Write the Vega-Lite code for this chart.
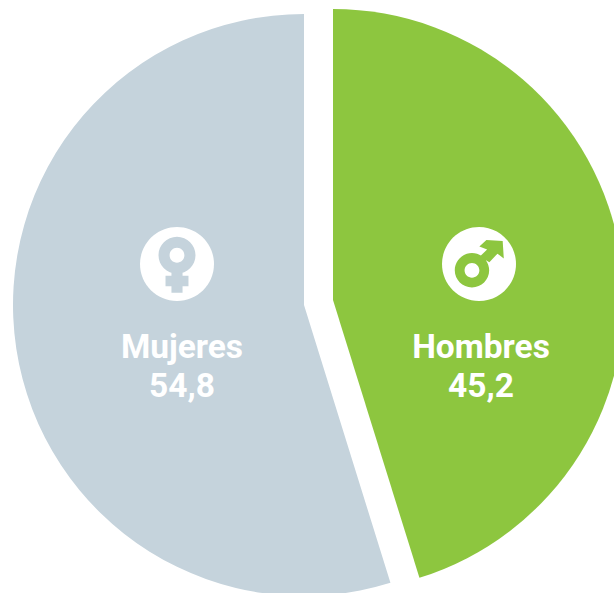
{
  "$schema": "https://vega.github.io/schema/vega-lite/v6.json",
  "width": 614,
  "height": 593,
  "padding": 0,
  "autosize": {"type": "none"},
  "background": "white",
  "view": {"stroke": null},
  "data": {"values": [
    {"sexo": "Hombres", "valor": 45.2, "etiqueta": "45,2"},
    {"sexo": "Mujeres", "valor": 54.8, "etiqueta": "54,8"}
  ]},
  "transform": [
    {"stack": "valor", "sort": [{"field": "sexo", "order": "ascending"}], "as": ["inicio", "fin"]}
  ],
  "encoding": {
    "x": {"field": "sexo", "type": "nominal", "axis": null, "scale": {"type": "point", "domain": ["Mujeres", "Hombres"], "range": [304, 333], "padding": 0}},
    "y": {"field": "sexo", "type": "nominal", "axis": null, "scale": {"type": "point", "domain": ["Mujeres", "Hombres"], "range": [305, 300], "padding": 0}}
  },
  "layer": [
    {
      "mark": {"type": "arc", "outerRadius": 291, "innerRadius": 0},
      "encoding": {
        "theta": {"field": "inicio", "type": "quantitative", "scale": {"domain": [0, 100], "range": [0, 6.283185307]}},
        "theta2": {"field": "fin"},
        "color": {"field": "sexo", "type": "nominal", "legend": null, "scale": {"domain": ["Mujeres", "Hombres"], "range": ["#c5d3dc", "#8dc63f"]}}
      }
    },
    {
      "transform": [{"filter": "datum.sexo === 'Mujeres'"}],
      "layer": [
        {"mark": {"type": "point", "filled": true, "opacity": 1, "fill": "white", "size": 5476, "shape": "M -1 0 A 1 1 0 1 1 1 0 A 1 1 0 1 1 -1 0 Z", "xOffset": -127, "yOffset": -41}},
        {"mark": {"type": "point", "filled": true, "opacity": 1, "fill": "#c5d3dc", "size": 5476, "xOffset": -127, "yOffset": -41, "shape": "M -0.5 -0.236 A 0.5 0.5 0 1 1 0.5 -0.236 A 0.5 0.5 0 1 1 -0.5 -0.236 Z M -0.2 -0.236 A 0.2 0.2 0 1 0 0.2 -0.236 A 0.2 0.2 0 1 0 -0.2 -0.236 Z M -0.15 0.15 L 0.15 0.15 L 0.15 0.32 L 0.31 0.32 L 0.31 0.6 L 0.15 0.6 L 0.15 0.78 L -0.15 0.78 L -0.15 0.6 L -0.31 0.6 L -0.31 0.32 L -0.15 0.32 Z"}},
        {"mark": {"type": "text", "font": "Roboto", "fontWeight": 700, "fontSize": 33.5, "color": "white", "align": "center", "baseline": "alphabetic", "dx": -122, "dy": 53}, "encoding": {"text": {"field": "sexo"}}},
        {"mark": {"type": "text", "font": "Roboto", "fontWeight": 700, "fontSize": 33.5, "color": "white", "align": "center", "baseline": "alphabetic", "dx": -122, "dy": 92}, "encoding": {"text": {"field": "etiqueta"}}}
      ]
    },
    {
      "transform": [{"filter": "datum.sexo === 'Hombres'"}],
      "layer": [
        {"mark": {"type": "point", "filled": true, "opacity": 1, "fill": "white", "size": 5476, "shape": "M -1 0 A 1 1 0 1 1 1 0 A 1 1 0 1 1 -1 0 Z", "xOffset": 146, "yOffset": -36}},
        {"mark": {"type": "point", "filled": true, "opacity": 1, "fill": "#8dc63f", "size": 5476, "xOffset": 146, "yOffset": -36, "shape": "M -0.655 0.17 A 0.465 0.465 0 1 1 0.275 0.17 A 0.465 0.465 0 1 1 -0.655 0.17 Z M -0.39 0.17 A 0.2 0.2 0 1 0 0.01 0.17 A 0.2 0.2 0 1 0 -0.39 0.17 Z M 0.2 -0.65 L 0.64 -0.62 L 0.67 -0.15 L 0.5 -0.28 L 0.28 -0.05 L 0.02 -0.2 L 0.22 -0.39 L 0.01 -0.47 Z"}},
        {"mark": {"type": "text", "font": "Roboto", "fontWeight": 700, "fontSize": 33.5, "color": "white", "align": "center", "baseline": "alphabetic", "dx": 148, "dy": 58}, "encoding": {"text": {"field": "sexo"}}},
        {"mark": {"type": "text", "font": "Roboto", "fontWeight": 700, "fontSize": 33.5, "color": "white", "align": "center", "baseline": "alphabetic", "dx": 148, "dy": 97}, "encoding": {"text": {"field": "etiqueta"}}}
      ]
    }
  ]
}
